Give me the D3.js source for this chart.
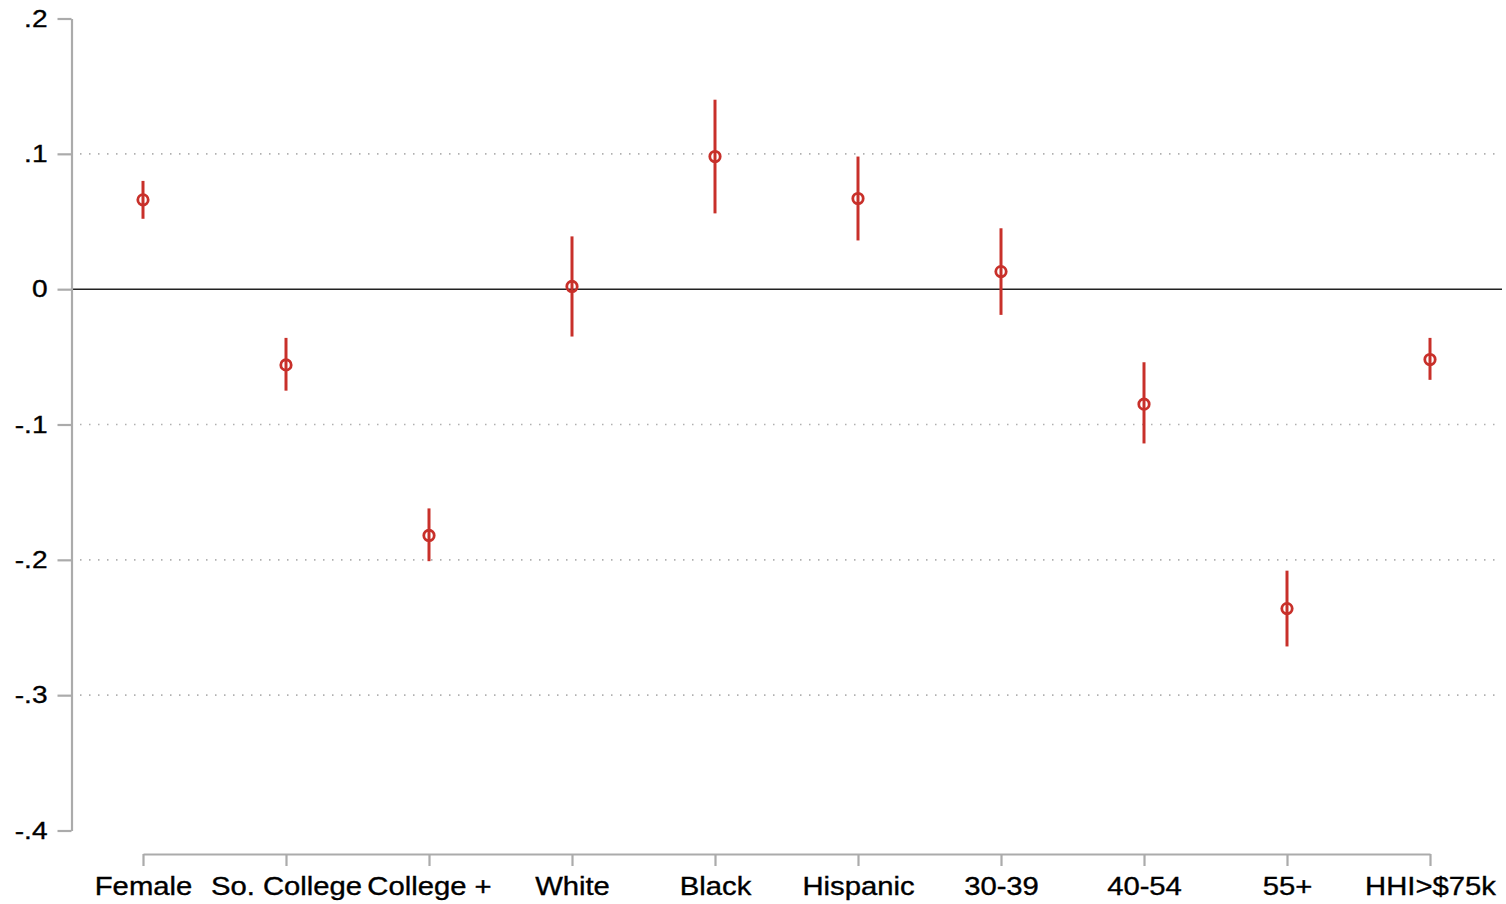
<!DOCTYPE html>
<html>
<head>
<meta charset="utf-8">
<script src="https://cdn.jsdelivr.net/npm/d3@7"></script>
<style>
  html, body { margin: 0; padding: 0; background: #fff; }
  svg { display: block; }
  text { font-family: "Liberation Sans", Arial, Helvetica, sans-serif; }
</style>
</head>
<body>
<svg id="chart" width="1506" height="904"></svg>
<script>
const categories = ["Female", "So. College", "College +", "White", "Black", "Hispanic", "30-39", "40-54", "55+", "HHI>$75k"];
const estimates  = [0.066, -0.056, -0.182, 0.002, 0.098, 0.067, 0.013, -0.085, -0.236, -0.052];
const ciLower    = [0.052, -0.075, -0.201, -0.035, 0.056, 0.036, -0.019, -0.114, -0.264, -0.067];
const ciUpper    = [0.080, -0.036, -0.162, 0.039, 0.140, 0.098, 0.045, -0.054, -0.208, -0.036];
const yTicks     = [0.2, 0.1, 0, -0.1, -0.2, -0.3, -0.4];
const yTickLabels = [".2", ".1", "0", "-.1", "-.2", "-.3", "-.4"];
const gridValues = [0.1, -0.1, -0.2, -0.3];

const svg = d3.select("#chart");
const stretch = 1.17;
const red = "#c8302a";
const axisGray = "#ababab";

const y = d3.scaleLinear().domain([-0.4, 0.2]).range([830.5, 18.5]);
const x = d3.scalePoint().domain(categories).range([143, 1430]);

const plotLeft = 72, plotRight = 1502;

// gridlines
svg.append("g").selectAll("line").data(gridValues).join("line")
  .attr("x1", plotLeft + 8).attr("x2", plotRight)
  .attr("y1", d => y(d)).attr("y2", d => y(d))
  .attr("stroke", "#b0b0b0").attr("stroke-width", 1.6)
  .attr("stroke-dasharray", "1.5,7.5");

// zero line
svg.append("line")
  .attr("x1", plotLeft).attr("x2", plotRight)
  .attr("y1", y(0)).attr("y2", y(0))
  .attr("stroke", "#222").attr("stroke-width", 1.5);

// y axis
const yAxis = d3.axisLeft(y).tickValues(yTicks)
  .tickFormat((d, i) => yTickLabels[i])
  .tickSize(14).tickSizeOuter(0).tickPadding(9);
const gy = svg.append("g").attr("transform", `translate(${plotLeft - 0.5},0)`).call(yAxis);
gy.select(".domain").attr("stroke", axisGray).attr("stroke-width", 2.2);
gy.selectAll(".tick line").attr("stroke", axisGray).attr("stroke-width", 2.2);
gy.selectAll(".tick text")
  .attr("font-size", 24).attr("fill", "#000")
  .attr("stroke", "#000").attr("stroke-width", 0.35)
  .attr("x", -24 / stretch)
  .attr("transform", `scale(${stretch},1)`);

// x axis
const xAxis = d3.axisBottom(x).tickSize(12).tickSizeOuter(0).tickPadding(11);
const gx = svg.append("g").attr("transform", "translate(0,854)").call(xAxis);
gx.select(".domain").attr("stroke", axisGray).attr("stroke-width", 2.2);
gx.selectAll(".tick line").attr("stroke", axisGray).attr("stroke-width", 2.2);
gx.selectAll(".tick text")
  .attr("font-size", 25).attr("fill", "#000")
  .attr("stroke", "#000").attr("stroke-width", 0.35)
  .attr("transform", `scale(${stretch},1)`);

// CI lines
const rows = categories.map((c, i) => ({c, est: estimates[i], lo: ciLower[i], hi: ciUpper[i]}));
svg.append("g").selectAll("line").data(rows).join("line")
  .attr("x1", d => x(d.c)).attr("x2", d => x(d.c))
  .attr("y1", d => y(d.lo)).attr("y2", d => y(d.hi))
  .attr("stroke", red).attr("stroke-width", 3);

// point estimates
svg.append("g").selectAll("circle").data(rows).join("circle")
  .attr("cx", d => x(d.c)).attr("cy", d => y(d.est))
  .attr("r", 5.2).attr("fill", "none")
  .attr("stroke", red).attr("stroke-width", 2.8);
</script>
</body>
</html>
